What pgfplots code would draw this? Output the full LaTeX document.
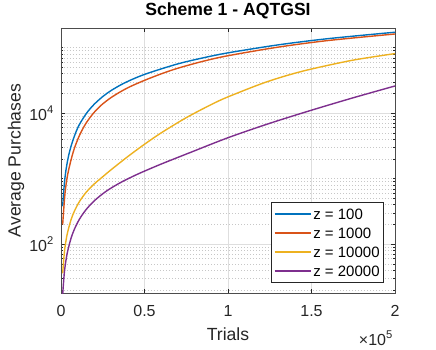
\documentclass[border=0pt]{standalone}
\usepackage{fontspec}
\setmainfont{Liberation Sans}
\usepackage{pgfplots}
\usepackage{pgfplotstable}
\pgfplotsset{compat=1.18}

\definecolor{mblue}{rgb}{0,0.447,0.741}
\definecolor{mred}{rgb}{0.85,0.325,0.098}
\definecolor{myellow}{rgb}{0.929,0.694,0.125}
\definecolor{mpurple}{rgb}{0.494,0.184,0.556}
\definecolor{axgray}{rgb}{0.15,0.15,0.15}

% trials vs average purchases
\pgfplotstableread{
t v
1000 380
2000 840
3000 1365
4400 2156
6000 3120
8400 4746
11000 6710
15400 10087
20000 13800
25300 18216
30000 22200
37000 28120
45000 34875
53300 41840
70000 56700
85000 69955
100000 83500
130000 110500
160000 137600
200000 172400
}\zA
\pgfplotstableread{
t v
1000 200
2400 600
4000 1160
6400 2112
8400 3108
11400 4788
15000 7050
19400 9991
24000 13200
29300 16848
35000 20825
41300 25400
50000 31750
60000 39900
70000 48650
85000 62050
100000 75500
130000 102050
160000 128800
200000 162000
}\zB
\pgfplotstableread{
t v
1000 36
2000 74.5
3000 114
4000 154
6000 236
8000 319
11000 446
15000 618
20000 836
25000 1072
30000 1371
40000 2178
50000 3357
60000 5012
75000 8551
90000 13580
100000 17780
120000 28180
135000 37500
150000 47300
175000 64710
200000 81280
}\zC
\pgfplotstableread{
t v
1000 17.2
2000 36.8
3000 57.5
4000 78.9
6000 123
8000 169
11000 240
15000 337
20000 462
27000 643
34300 836
40000 995
47300 1219
60000 1675
75000 2377
100000 4227
125000 7015
150000 11120
175000 17220
200000 26060
}\zD

\begin{document}
\begin{tikzpicture}
\useasboundingbox (-61pt,-56pt) rectangle (375pt,293pt);
\begin{axis}[
  at={(0,0)}, anchor=south west,
  scale only axis, width=334pt, height=265pt,
  xmin=0, xmax=200000,
  ymode=log, ymin=18, ymax=200000,
  scaled x ticks=false,
  xtick={0,50000,100000,150000,200000},
  xticklabels={0,0.5,1,1.5,2},
  ytick={100,10000},
  yticklabels={10\textsuperscript{2},10\textsuperscript{4}},
  minor ytick={20,30,40,50,60,70,80,90,200,300,400,500,600,700,800,900,1000,
    2000,3000,4000,5000,6000,7000,8000,9000,20000,30000,40000,50000,60000,
    70000,80000,90000,100000,200000},
  tick label style={font=\fontsize{16}{16}\selectfont, text=axgray, inner sep=0pt},
  xticklabel style={anchor=base, yshift=-23.7pt},
  yticklabel style={anchor=east, xshift=-7pt},
  major tick length=4pt, minor tick length=2.5pt,
  every tick/.style={axgray, line width=0.7pt},
  axis line style={black!70, line width=0.9pt},
  grid=both,
  major grid style={black!13, line width=0.8pt},
  minor grid style={black!22, line width=0.6pt, dash pattern=on 0.6pt off 2.4pt},
  title={Scheme 1 - AQTGSI},
  title style={font=\bfseries\fontsize{17.6}{17.6}\selectfont, text=black,
    at={(axis description cs:0.5,1.0264)}, anchor=base},
  xlabel={Trials},
  xlabel style={font=\fontsize{17.6}{17.6}\selectfont, text=axgray,
    at={(axis description cs:0.5,-0.1774)}, anchor=base},
  ylabel={Average Purchases},
  ylabel style={font=\fontsize{17.6}{17.6}\selectfont, text=axgray,
    at={(axis description cs:-0.1207,0.5)}, anchor=base},
  legend cell align=left,
  legend image code/.code={\draw[#1, line width=1.5pt] (0pt,0pt) -- (36pt,0pt);},
  legend style={at={(0.967,0.0377)}, anchor=south east,
    font=\fontsize{15}{15}\selectfont, draw=axgray, line width=0.7pt, fill=white,
    inner xsep=2pt, inner ysep=2pt, row sep=0pt,
    nodes={inner xsep=2pt, inner ysep=4pt, text height=11pt, text depth=0pt}},
  every axis plot/.append style={line width=1.4pt, no markers},
]
\addplot[mblue, smooth] table[x=t, y=v] {\zA};
\addplot[mred, smooth] table[x=t, y=v] {\zB};
\addplot[myellow, smooth] table[x=t, y=v] {\zC};
\addplot[mpurple, smooth] table[x=t, y=v] {\zD};
\legend{z = 100, z = 1000, z = 10000, z = 20000}
\end{axis}
\node[anchor=base east, font=\fontsize{16}{16}\selectfont, text=axgray, inner sep=0pt]
  at ([xshift=-2pt, yshift=-52pt]current axis.south east) {×10\textsuperscript{5}};
\end{tikzpicture}
\end{document}
